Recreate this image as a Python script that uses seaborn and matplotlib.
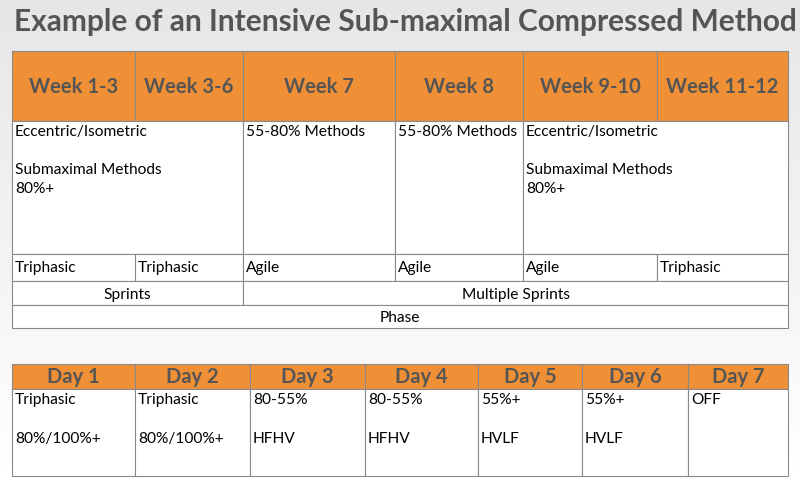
import matplotlib
matplotlib.use("Agg")
import matplotlib.pyplot as plt
import seaborn as sns
import numpy as np
from matplotlib.patches import Rectangle

sns.set_theme(style="white", font="Lato")

title = "Example of an Intensive Sub-maximal Compressed Method"
week_headers = ["Week 1-3", "Week 3-6", "Week 7", "Week 8", "Week 9-10", "Week 11-12"]
method_cells = [("Eccentric/Isometric\n\nSubmaximal Methods\n80%+", 0, 2),
                ("55-80% Methods", 2, 3),
                ("55-80% Methods", 3, 4),
                ("Eccentric/Isometric\n\nSubmaximal Methods\n80%+", 4, 6)]
movement_row = ["Triphasic", "Triphasic", "Agile", "Agile", "Agile", "Triphasic"]
sprint_cells = [("Sprints", 0, 2), ("Multiple Sprints", 2, 6)]
phase_cells = [("Phase", 0, 6)]
day_headers = ["Day 1", "Day 2", "Day 3", "Day 4", "Day 5", "Day 6", "Day 7"]
day_line1 = ["Triphasic", "Triphasic", "80-55%", "80-55%", "55%+", "55%+", "OFF"]
day_line2 = ["80%/100%+", "80%/100%+", "HFHV", "HFHV", "HVLF", "HVLF", ""]

ORANGE = "#EF9036"
TXT = "#555555"
LINE = "#8a8a8a"

fig = plt.figure(figsize=(8, 4.89), dpi=100)
bg = fig.add_axes([0, 0, 1, 1])
grad = np.linspace(0.90, 1.0, 100).reshape(-1, 1)
bg.imshow(grad, cmap="gray", vmin=0, vmax=1, aspect="auto", extent=[0, 1, 0, 1])
bg.axis("off")
ax = fig.add_axes([0, 0, 1, 1])
ax.set_xlim(0, 800); ax.set_ylim(489, 0); ax.axis("off"); ax.patch.set_alpha(0)

ax.text(14, 22, title, fontsize=21.5, fontweight="bold", color=TXT, va="center", ha="left")

FS = 11.2
wx = [12, 135, 243, 395, 523, 657, 788]
def cell(x0, x1, y0, y1, fc="white"):
    ax.add_patch(Rectangle((x0, y0), x1 - x0, y1 - y0, facecolor=fc, edgecolor=LINE, lw=0.8))

for i, h in enumerate(week_headers):
    cell(wx[i], wx[i+1], 52, 122, ORANGE)
    ax.text((wx[i]+wx[i+1])/2, 87, h, fontsize=14.5, fontweight="bold", color=TXT, ha="center", va="center")
for t, a, b in method_cells:
    cell(wx[a], wx[b], 122, 255)
    ax.text(wx[a]+3, 125, t, fontsize=FS, color="black", ha="left", va="top", linespacing=1.45)
for i, t in enumerate(movement_row):
    cell(wx[i], wx[i+1], 255, 282)
    ax.text(wx[i]+3, 268, t, fontsize=FS, color="black", ha="left", va="center")
for t, a, b in sprint_cells:
    cell(wx[a], wx[b], 282, 306)
    ax.text((wx[a]+wx[b])/2, 295, t, fontsize=FS, color="black", ha="center", va="center")
for t, a, b in phase_cells:
    cell(wx[a], wx[b], 306, 329)
    ax.text((wx[a]+wx[b])/2, 318, t, fontsize=FS, color="black", ha="center", va="center")

dx = [12, 135, 250, 365, 478, 582, 688, 788]
for i, h in enumerate(day_headers):
    cell(dx[i], dx[i+1], 365, 390, ORANGE)
    ax.text((dx[i]+dx[i+1])/2, 377, h, fontsize=14.5, fontweight="bold", color=TXT, ha="center", va="center")
    cell(dx[i], dx[i+1], 390, 477)
    ax.text(dx[i]+3, 393, day_line1[i] + "\n\n" + day_line2[i], fontsize=FS, color="black",
            ha="left", va="top", linespacing=1.5)

fig.savefig("out.png", dpi=100)
